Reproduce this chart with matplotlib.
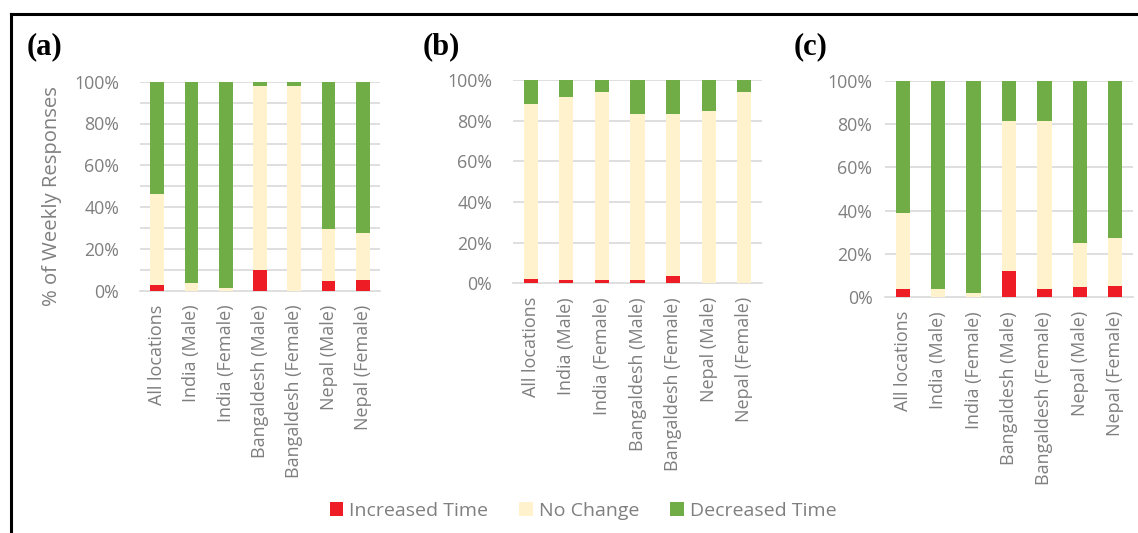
import matplotlib.pyplot as plt
import numpy as np
from matplotlib.lines import Line2D
from matplotlib.patches import Patch

plt.rcParams["font.family"] = ["Open Sans", "DejaVu Sans"]

categories = ["All locations", "India (Male)", "India (Female)", "Bangaldesh (Male)",
              "Bangaldesh (Female)", "Nepal (Male)", "Nepal (Female)"]

# share of weekly responses (%), per panel
increased_a = [2.5, 0.0, 0.0, 9.7, 0.0, 4.5, 5.1]
no_change_a = [43.8, 3.7, 1.5, 88.4, 98.0, 25.0, 22.3]
decreased_a = [53.7, 96.3, 98.5, 1.9, 2.0, 70.5, 72.6]

increased_b = [2.0, 1.6, 1.6, 1.6, 3.8, 0.0, 0.0]
no_change_b = [86.5, 90.4, 92.4, 82.0, 79.8, 85.0, 94.4]
decreased_b = [11.5, 8.0, 6.0, 16.4, 16.4, 15.0, 5.6]

increased_c = [3.8, 0.0, 0.0, 12.0, 3.7, 4.8, 5.4]
no_change_c = [35.3, 3.7, 1.8, 69.5, 77.8, 20.1, 22.1]
decreased_c = [60.9, 96.3, 98.2, 18.5, 18.5, 75.1, 72.5]

series_names = ["Increased Time", "No Change", "Decreased Time"]
colors = ["#ee1c25", "#fff2cc", "#70ad47"]
grey = "#7f7f7f"
grid = "#d9d9d9"

W, H = 1138, 533
fig = plt.figure(figsize=(W / 100, H / 100), dpi=100)


def px_axes(left, right, top, bottom):
    return fig.add_axes([left / W, 1 - bottom / H, (right - left) / W, (bottom - top) / H])


panels = [
    ("(a)", (140, 380, 81.7, 290.7), (increased_a, no_change_a, decreased_a), 10, 15, (27, 47)),
    ("(b)", (513, 762, 80.3, 283.3), (increased_b, no_change_b, decreased_b), 20, 15, (423, 47)),
    ("(c)", (885, 1133, 80.7, 297.3), (increased_c, no_change_c, decreased_c), 20, 9, (794, 47)),
]

x = np.arange(len(categories))
for tag, box, data, step, ypad, tagpos in panels:
    ax = px_axes(*box)
    bottom = np.zeros(len(categories))
    for vals, c in zip(data, colors):
        vals = np.array(vals)
        ax.bar(x, vals, 0.4, bottom=bottom, color=c, zorder=3)
        bottom += vals
    ax.set_xlim(-0.5, len(categories) - 0.5)
    ax.set_ylim(0, 100)
    ax.set_yticks(np.arange(0, 101, 20))
    ax.set_yticklabels([f"{v}%" for v in range(0, 101, 20)])
    for g in np.arange(step, 101, step):
        ax.axhline(g, color=grid, lw=1.2, zorder=1)
    ax.set_xticks(x)
    ax.set_xticklabels(categories, rotation=90, va="top", ha="center")
    for s in ["top", "left", "right"]:
        ax.spines[s].set_visible(False)
    ax.spines["bottom"].set_color(grid)
    ax.spines["bottom"].set_linewidth(1.2)
    ax.tick_params(axis="x", length=0, pad=10, labelsize=13, colors=grey)
    ax.tick_params(axis="y", length=0, pad=ypad, labelsize=12.8, colors=grey)
    fig.text(tagpos[0] / W, 1 - tagpos[1] / H, tag, family="Liberation Serif",
             fontweight="bold", fontsize=22, ha="left", va="center")

fig.text(52 / W, 1 - 196 / H, "% of Weekly Responses", rotation=90,
         ha="center", va="center", fontsize=14.6, color=grey)

handles = [Patch(facecolor=c, edgecolor="none") for c in colors]
leg = fig.legend(handles, series_names, loc="center", ncol=3,
                 bbox_to_anchor=(583 / W, 1 - 511 / H), frameon=False,
                 fontsize=14, handlelength=0.7, handleheight=0.7,
                 handletextpad=0.3, columnspacing=1.6)
for t in leg.get_texts():
    t.set_color(grey)

# outer frame: top and left edges
fig.add_artist(Line2D([11 / W, 1], [1 - 14 / H, 1 - 14 / H], color="black", lw=2.2,
                      transform=fig.transFigure))
fig.add_artist(Line2D([11 / W, 11 / W], [0, 1 - 14 / H], color="black", lw=2.2,
                      transform=fig.transFigure))

fig.savefig("out.png", dpi=100)
